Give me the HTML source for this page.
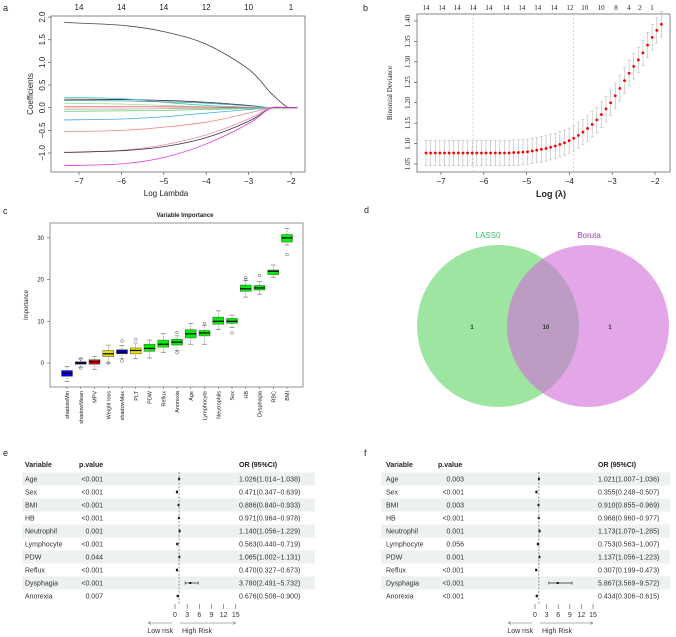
<!DOCTYPE html>
<html><head><meta charset="utf-8"><style>
html,body{margin:0;padding:0;background:#fff;}
svg{display:block;font-family:"Liberation Sans",sans-serif;}
</style></head><body>
<svg id="fig" width="676" height="637" viewBox="0 0 676 637" xmlns="http://www.w3.org/2000/svg">
<g font-size="9" fill="#222">
<text x="3" y="11">a</text>
<text x="363" y="11">b</text>
<text x="3" y="214">c</text>
<text x="364" y="213">d</text>
<text x="3" y="456">e</text>
<text x="364" y="456">f</text>
</g>
<g id="pa"></g>
<g id="pb"></g>
<g id="pc"></g>
<g id="pd">
<circle cx="498" cy="326" r="81" fill="#5fd364" fill-opacity="0.6"/>
<circle cx="588" cy="326" r="81" fill="#d06bd8" fill-opacity="0.6"/>
<text x="488" y="238" font-size="8" fill="#3cbf6a" text-anchor="middle">LASS0</text>
<text x="589" y="238" font-size="8" fill="#9a3fb5" text-anchor="middle">Boruta</text>
<text x="472" y="329" font-size="6" font-weight="bold" fill="#333" text-anchor="middle">1</text>
<text x="546" y="329" font-size="6" font-weight="bold" fill="#333" text-anchor="middle">10</text>
<text x="610" y="329" font-size="6" font-weight="bold" fill="#333" text-anchor="middle">1</text>
</g>
<g id="pe"></g>
<g id="pf"></g>
</svg>
<script>
const NS="http://www.w3.org/2000/svg";
function mk(p,tag,at,txt){const e=document.createElementNS(NS,tag);for(const k in at)e.setAttribute(k,at[k]);if(txt!==undefined)e.textContent=txt;p.appendChild(e);return e;}

// ---------- Panel a data ----------
const aLambda=[-7.35,-6,-5,-4,-3,-2.5,-2.1,-1.85];
const aSeries=[
[1.88,1.82,1.68,1.4,0.85,0.35,0.02,0],
[0.19,0.18,0.16,0.12,0.05,0,0,0],
[0.23,0.2,0.12,0.05,0.01,0,0,0],
[0.16,0.15,0.13,0.1,0.04,0,0,0],
[0.1,0.08,0.05,0.02,0,0,0,0],
[0.02,0.02,0.02,0.01,0,0,0,0],
[-0.03,-0.03,-0.02,-0.02,-0.01,0,0,0],
[-0.08,-0.07,-0.06,-0.04,-0.02,0,0,0],
[-0.27,-0.25,-0.2,-0.12,-0.04,0,0,0],
[-0.53,-0.5,-0.43,-0.32,-0.12,0,0,0],
[-0.98,-0.94,-0.82,-0.6,-0.25,0,0,0],
[-0.99,-0.95,-0.86,-0.66,-0.3,-0.02,0,0],
[-1.28,-1.24,-1.1,-0.8,-0.35,-0.02,0,0]];
const aColors=["#444","#333","#3cc","#59a","#9d9","#e55","#aaa","#7c7","#4ae","#e88","#e8a","#333","#d3d"];
const aXTicks=[-7,-6,-5,-4,-3,-2];
const aYTicks=[-1,-0.5,0,0.5,1,1.5,2];
const aTop=["14","14","14","12","10","1"];

// ---------- Panel b data ----------
const bRange=[-7.35,-1.85];
const bDev=[1.077,1.077,1.077,1.077,1.077,1.077,1.077,1.077,1.077,1.077,1.077,1.077,1.077,1.077,1.077,1.077,1.077,1.077,1.077,1.078,1.078,1.079,1.080,1.082,1.084,1.086,1.088,1.091,1.094,1.098,1.102,1.107,1.113,1.120,1.128,1.137,1.147,1.158,1.171,1.185,1.200,1.217,1.235,1.254,1.272,1.289,1.305,1.322,1.341,1.360,1.377,1.392];
const bSE=0.031;
const bXTicks=[-7,-6,-5,-4,-3,-2];
const bYTicks=[1.05,1.10,1.15,1.20,1.25,1.30,1.35,1.40];
const bTopLambda=[-7.35,-6.98,-6.62,-6.25,-5.88,-5.48,-5.11,-4.74,-4.36,-3.99,-3.64,-3.26,-2.91,-2.61,-2.35,-2.07];
const bTopCount=["14","14","14","14","14","14","14","14","14","12","10","10","8","4","2","1"];
const bVLines=[-6.25,-3.9];

// ---------- Panel c data ----------
const cCats=["shadowMin","shadowMean","MPV","Weight loss","shadowMax","PLT","PDW","Reflux","Anorexia","Age","Lymphocyte","Neutrophils","Sex","HB","Dysphagia","RBC","BMI"];
const cMed=[-2.5,0,0.3,2.2,2.6,3,3.5,4.5,5,7,7.2,10,10,17.8,18,22,30];
const cQ1=[-3.2,-0.3,-0.3,1.5,2.2,2.2,2.8,3.8,4.3,6,6.5,9.3,9.5,17.2,17.5,21.2,29];
const cQ3=[-1.8,0.3,0.8,3,3.2,3.6,4.5,5.5,5.7,8,7.8,11,10.7,18.7,18.6,22.3,30.8];
const cLo=[-4.5,-1,-1.5,0,1,1,1.2,2.5,3,4.5,4.5,8,8.5,15.8,16.5,20.5,28.3];
const cHi=[-0.8,1,1.6,4.3,4.2,4.8,5.5,7,6.5,9.5,9,12.5,11.5,19.8,19.5,23.5,32.3];
const cOut=[[],[1,-1.2],[],[0],[5.3,0.5],[5.7],[],[],[7.3,2.5],[],[9.5],[],[7.2],[20.5,20],[21],[],[26]];
const cFill=["#0000ee","#1a1a8a","#e00000","#e8e000","#0000cc","#e8e000","#00ee00","#00ee00","#00ee00","#00ee00","#00ee00","#00ee00","#00ee00","#00ee00","#00ee00","#00ee00","#00ee00"];
const cYTicks=[0,10,20,30];

// ---------- Forest data ----------
const fVars=["Age","Sex","BMI","HB","Neutrophil","Lymphocyte","PDW","Reflux","Dysphagia","Anorexia"];
const eP=["<0.001","<0.001","<0.001","<0.001","0.001","<0.001","0.044","<0.001","<0.001","0.007"];
const eOR=[1.026,0.471,0.886,0.971,1.140,0.563,1.065,0.470,3.780,0.676];
const eLo=[1.014,0.347,0.840,0.964,1.056,0.440,1.002,0.327,2.491,0.508];
const eHi=[1.038,0.639,0.933,0.978,1.229,0.719,1.131,0.673,5.732,0.900];
const fP=["0.003","<0.001","0.003","<0.001","0.001","0.056","0.001","<0.001","<0.001","<0.001"];
const fOR=[1.021,0.355,0.910,0.968,1.173,0.753,1.137,0.307,5.867,0.434];
const fLo=[1.007,0.248,0.855,0.960,1.070,0.563,1.056,0.199,3.569,0.306];
const fHi=[1.036,0.507,0.969,0.977,1.285,1.007,1.223,0.473,9.572,0.615];
const forestTicks=[0,3,6,9,12,15];

function smooth(pts){let d=`M${pts[0][0]},${pts[0][1]}`;
 for(let i=0;i<pts.length-1;i++){const p0=pts[Math.max(0,i-1)],p1=pts[i],p2=pts[i+1],p3=pts[Math.min(pts.length-1,i+2)];
  const c1=[p1[0]+(p2[0]-p0[0])/6,p1[1]+(p2[1]-p0[1])/6],c2=[p2[0]-(p3[0]-p1[0])/6,p2[1]-(p3[1]-p1[1])/6];
  d+=`C${c1[0]},${c1[1]} ${c2[0]},${c2[1]} ${p2[0]},${p2[1]}`;}
 return d;}

// ===== Panel a =====
(function(){
const g=document.getElementById('pa');
const X=v=>79+(v+7)*42.4, Y=v=>153-(v+1)*45.3;
let r=mk(g,'rect',{x:51,y:16,width:254,height:156,fill:'none',stroke:'#555','stroke-width':0.7});

aXTicks.forEach(t=>{mk(g,'line',{x1:X(t),x2:X(t),y1:172,y2:175,stroke:'#555','stroke-width':0.7});
 const tx=mk(g,'text',{x:X(t),y:184,'font-size':8,'text-anchor':'middle',fill:'#222'},String(t).replace('-','−'));
 });
aYTicks.forEach(t=>{mk(g,'line',{x1:48,x2:51,y1:Y(t),y2:Y(t),stroke:'#555','stroke-width':0.7});
 const tx=mk(g,'text',{x:0,y:0,'font-size':8,'text-anchor':'middle',fill:'#222',transform:`translate(45,${Y(t)}) rotate(-90)`},t.toFixed(1).replace('-','−'));
 });
aXTicks.forEach((t,i)=>{const tx=mk(g,'text',{x:X(t),y:10,'font-size':8,'text-anchor':'middle',fill:'#222'},aTop[i]);
 });
let t1=mk(g,'text',{x:166,y:196,'font-size':8,'text-anchor':'middle',fill:'#222'},'Log Lambda');

let t2=mk(g,'text',{x:0,y:0,'font-size':8,'text-anchor':'middle',fill:'#222',transform:'translate(33,94) rotate(-90)'},'Coefficients');

aSeries.forEach((s,i)=>{const pts=s.map((v,j)=>[X(aLambda[j]),Y(v)]);
 const p=mk(g,'path',{d:smooth(pts),fill:'none',stroke:aColors[i],'stroke-width':0.8});
 });
})();

// ===== Panel b =====
(function(){
const g=document.getElementById('pb');
const X=v=>441+(v+7)*42.8, Y=v=>164-(v-1.05)/0.35*143;
let r=mk(g,'rect',{x:417,y:14,width:253,height:158,fill:'none',stroke:'#555','stroke-width':0.7});

bVLines.forEach(v=>{const l=mk(g,'line',{x1:X(v),x2:X(v),y1:14,y2:172,stroke:'#bbb','stroke-width':0.6,'stroke-dasharray':'2,2'});
 });
bXTicks.forEach(t=>{mk(g,'line',{x1:X(t),x2:X(t),y1:172,y2:175,stroke:'#555','stroke-width':0.7});
 const tx=mk(g,'text',{x:X(t),y:184,'font-size':8,'text-anchor':'middle',fill:'#222'},String(t).replace('-','−'));
 });
bYTicks.forEach(t=>{mk(g,'line',{x1:414,x2:417,y1:Y(t),y2:Y(t),stroke:'#555','stroke-width':0.7});
 const tx=mk(g,'text',{x:0,y:0,'font-size':7,'text-anchor':'middle',fill:'#222','font-family':'Liberation Serif,serif',transform:`translate(410,${Y(t)}) rotate(-90)`},t.toFixed(2));
 });
bTopLambda.forEach((v,i)=>{const tx=mk(g,'text',{x:X(v),y:10,'font-size':7,'text-anchor':'middle',fill:'#222','font-family':'Liberation Serif,serif'},bTopCount[i]);
 });
const n=bDev.length;
bDev.forEach((d,i)=>{const lv=bRange[0]+(bRange[1]-bRange[0])*i/(n-1);const x=X(lv);
 const e=mk(g,'path',{d:`M${x},${Y(d-bSE)}V${Y(d+bSE)}M${x-1.5},${Y(d-bSE)}h3M${x-1.5},${Y(d+bSE)}h3`,stroke:'#aaa','stroke-width':0.5,fill:'none'});
 
 const c=mk(g,'circle',{cx:x,cy:Y(d),r:1.4,fill:'#f00'});
 });
let t1=mk(g,'text',{x:551,y:197,'font-size':9,'font-weight':'bold','text-anchor':'middle',fill:'#222'},'Log (λ)');

let t2=mk(g,'text',{x:0,y:0,'font-size':7,'text-anchor':'middle',fill:'#222','font-family':'Liberation Serif,serif',transform:'translate(392,93) rotate(-90)'},'Binomial Deviance');

})();

// ===== Panel c =====
(function(){
const g=document.getElementById('pc');
const Y=v=>363-v*4.17, X=i=>67+i*13.75;
let r=mk(g,'rect',{x:50,y:223,width:253,height:164,fill:'none',stroke:'#666','stroke-width':0.7});

let tt=mk(g,'text',{x:185,y:217,'font-size':6,'font-weight':'bold','text-anchor':'middle',fill:'#222'},'Variable Importance');

cYTicks.forEach(t=>{mk(g,'line',{x1:47,x2:50,y1:Y(t),y2:Y(t),stroke:'#555','stroke-width':0.6});
 const tx=mk(g,'text',{x:44,y:Y(t)+2,'font-size':6,'text-anchor':'end',fill:'#222'},t);
 });
let yt=mk(g,'text',{x:0,y:0,'font-size':6,'text-anchor':'middle',fill:'#222',transform:'translate(28,305) rotate(-90)'},'Importance');

cCats.forEach((c,i)=>{const x=X(i),w=5.5;
 mk(g,'line',{x1:x,x2:x,y1:Y(cLo[i]),y2:Y(cQ1[i]),stroke:'#555','stroke-width':0.5,'stroke-dasharray':'1.5,1'});
 mk(g,'line',{x1:x,x2:x,y1:Y(cQ3[i]),y2:Y(cHi[i]),stroke:'#555','stroke-width':0.5,'stroke-dasharray':'1.5,1'});
 mk(g,'line',{x1:x-2.5,x2:x+2.5,y1:Y(cLo[i]),y2:Y(cLo[i]),stroke:'#555','stroke-width':0.5});
 mk(g,'line',{x1:x-2.5,x2:x+2.5,y1:Y(cHi[i]),y2:Y(cHi[i]),stroke:'#555','stroke-width':0.5});
 const b=mk(g,'rect',{x:x-w,y:Y(cQ3[i]),width:2*w,height:Y(cQ1[i])-Y(cQ3[i]),fill:cFill[i],stroke:'#555','stroke-width':0.5});
 
 mk(g,'line',{x1:x-w,x2:x+w,y1:Y(cMed[i]),y2:Y(cMed[i]),stroke:'#000','stroke-width':1.2});
 cOut[i].forEach(o=>{const oc=mk(g,'circle',{cx:x,cy:Y(o),r:1.4,fill:'none',stroke:'#555','stroke-width':0.5});
  });
 mk(g,'line',{x1:x,x2:x,y1:387,y2:389,stroke:'#555','stroke-width':0.5});
 const tx=mk(g,'text',{x:0,y:0,'font-size':5.5,'text-anchor':'end',fill:'#222',transform:`translate(${x+2},391) rotate(-90)`},c);
 });
})();

// ===== Forest plots =====
function forest(id,o){
const g=document.getElementById(id);
const X=v=>o.x0+v*o.k;
const hdr=[[o.vx,'Variable','start'],[o.px,'p.value','start'],[o.ox,'OR (95%CI)','start']];
hdr.forEach(h=>{const t=mk(g,'text',{x:h[0],y:467,'font-size':7,'font-weight':'bold','text-anchor':h[2],fill:'#222'},h[1]);
 });
fVars.forEach((v,i)=>{const cy=479+13*i;
 if(i%2===0){const b=mk(g,'rect',{x:o.bx,y:cy-6.5,width:o.bw,height:13,fill:'#eef1f1'});
  }
 const a=mk(g,'text',{x:o.vx,y:cy+2.5,'font-size':7,fill:'#333'},v);
 
 const p=mk(g,'text',{x:o.pr,y:cy+2.5,'font-size':7,fill:'#333','text-anchor':'end'},o.P[i]);
 
 const t=mk(g,'text',{x:o.ox,y:cy+2.5,'font-size':7,fill:'#333'},o.OR[i].toFixed(3)+'('+o.LO[i].toFixed(3)+'−'+o.HI[i].toFixed(3)+')');
 
 const l=mk(g,'line',{x1:X(o.LO[i]),x2:X(o.HI[i]),y1:cy,y2:cy,stroke:'#222','stroke-width':0.7});
 
 [o.LO[i],o.HI[i]].forEach(e=>mk(g,'line',{x1:X(e),x2:X(e),y1:cy-1.5,y2:cy+1.5,stroke:'#222','stroke-width':0.6}));
 const s=mk(g,'rect',{x:X(o.OR[i])-1,y:cy-1,width:2,height:2,fill:'#111'});
 });
const d=mk(g,'line',{x1:X(1),x2:X(1),y1:472,y2:604,stroke:'#555','stroke-width':0.6,'stroke-dasharray':'2,1.5'});

forestTicks.forEach(t=>{mk(g,'line',{x1:X(t),x2:X(t),y1:604,y2:609,stroke:'#555','stroke-width':0.6});
 const tx=mk(g,'text',{x:X(t),y:617,'font-size':7,'text-anchor':'middle',fill:'#333'},t);
 });
const la=mk(g,'path',{d:`M${X(0)-3},623H${X(0)-27}M${X(0)-24},621.5L${X(0)-27},623L${X(0)-24},624.5`,stroke:'#666','stroke-width':0.5,fill:'none'});

const ra=mk(g,'path',{d:`M${X(0)+5},623H${X(15)}M${X(15)-3},621.5L${X(15)},623L${X(15)-3},624.5`,stroke:'#666','stroke-width':0.5,fill:'none'});

const lt=mk(g,'text',{x:X(0)-2,y:633,'font-size':7,'text-anchor':'end',fill:'#333'},'Low risk');

const ht=mk(g,'text',{x:X(0)+7,y:633,'font-size':7,fill:'#333'},'High Risk');

}
forest('pe',{x0:175,k:4.05,vx:25,px:79,pr:103,ox:239,bx:22,bw:293,P:eP,OR:eOR,LO:eLo,HI:eHi});
forest('pf',{x0:535,k:3.87,vx:386,px:438,pr:464,ox:598,bx:381,bw:289,P:fP,OR:fOR,LO:fLo,HI:fHi});
</script>
</body></html>
